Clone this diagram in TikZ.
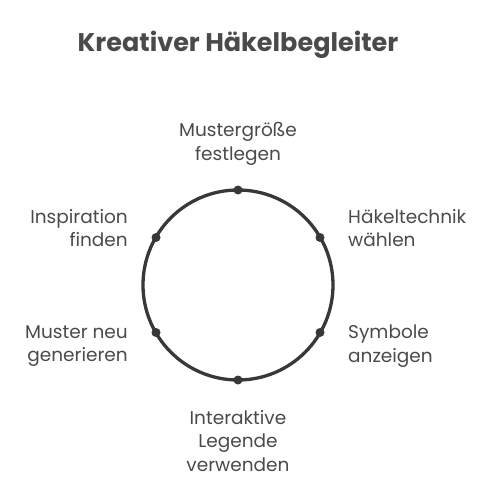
\documentclass[tikz,border=0pt]{standalone}
\usepackage{fontspec}
\setmainfont{Poppins}
\begin{document}
\begin{tikzpicture}[x=1pt,y=-1pt,
  lbl/.style={text=txtgray,font=\fontsize{18.5}{23.5}\selectfont,inner sep=0pt},
  dotn/.style={circle,fill=ringgray,inner sep=0pt,minimum size=9pt}]
\definecolor{txtgray}{HTML}{4A4A4A}
\definecolor{ringgray}{HTML}{383838}
\useasboundingbox (0,0) rectangle (500,500);
\node[text=txtgray,font=\fontsize{25.5}{28}\bfseries] (title) at (238,45) {Kreativer Häkelbegleiter};
\coordinate (c) at (238,285);
\draw[ringgray,line width=3.3pt] (c) circle[radius=95];
\node[dotn] (d1) at (238,190) {};
\node[dotn] (d2) at (320,237.5) {};
\node[dotn] (d3) at (320,332.5) {};
\node[dotn] (d4) at (238,380) {};
\node[dotn] (d5) at (156,332.5) {};
\node[dotn] (d6) at (156,237.5) {};
\node[lbl,align=center] (l1) at (238,144) {Mustergröße\\festlegen};
\node[lbl,align=left,anchor=west] (l2) at (348,228) {Häkeltechnik\\wählen};
\node[lbl,align=left,anchor=west] (l3) at (348,346) {Symbole\\anzeigen};
\node[lbl,align=center] (l4) at (238,441) {Interaktive\\Legende\\verwenden};
\node[lbl,align=right,anchor=east] (l5) at (128,346) {Muster neu\\generieren};
\node[lbl,align=right,anchor=east] (l6) at (128,228) {Inspiration\\finden};
\end{tikzpicture}
\end{document}
